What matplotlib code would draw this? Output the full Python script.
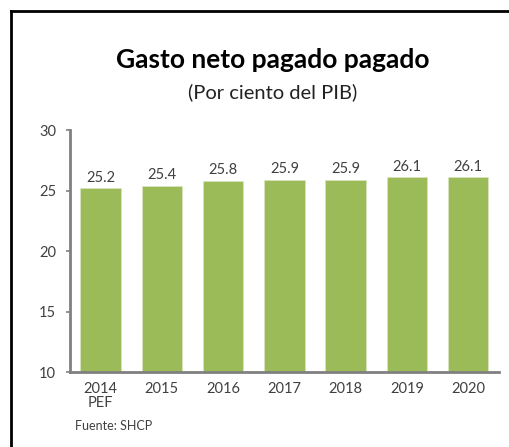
import matplotlib

matplotlib.use("Agg")

import matplotlib.pyplot as plt
from matplotlib.lines import Line2D


YEARS = ["2014\nPEF", "2015", "2016", "2017", "2018", "2019", "2020"]
GASTO = [25.2, 25.4, 25.8, 25.9, 25.9, 26.1, 26.1]
Y_TICKS = [10, 15, 20, 25, 30]

BAR_COLOR = "#9BBB59"
AXIS_GRAY = "#808080"
TEXT_GRAY = "#404040"


def main():
    plt.rcParams["font.family"] = ["Lato", "DejaVu Sans"]
    fig = plt.figure(figsize=(5.09, 4.47), dpi=100)
    ax = fig.add_axes([0.1375, 0.167, 0.8425, 0.542])

    x = range(len(YEARS))
    bars = ax.bar(x, GASTO, width=0.66, bottom=0, color=BAR_COLOR,
                  edgecolor="#D8E4BC", linewidth=0.6, zorder=2)
    for rect, value in zip(bars, GASTO):
        ax.annotate(f"{value:.1f}", (rect.get_x() + rect.get_width() / 2, value),
                    xytext=(0, 2.5), textcoords="offset points",
                    ha="center", va="bottom", fontsize=10.5, color=TEXT_GRAY)

    ax.set_ylim(10, 30)
    ax.set_xlim(-0.5, len(YEARS) - 0.5)
    ax.set_yticks(Y_TICKS)
    ax.set_xticks(list(x))
    ax.set_xticklabels(YEARS, fontsize=10.5, color=TEXT_GRAY, linespacing=1.0)
    ax.tick_params(axis="y", labelsize=10.5, labelcolor=TEXT_GRAY, color=AXIS_GRAY,
                   length=3, width=1.2, pad=7)
    ax.tick_params(axis="x", length=0, pad=7)

    for side in ("top", "right"):
        ax.spines[side].set_visible(False)
    for side in ("left", "bottom"):
        ax.spines[side].set_color(AXIS_GRAY)
        ax.spines[side].set_linewidth(2)

    fig.text(0.536, 0.865, "Gasto neto pagado pagado", ha="center", va="center",
             fontsize=19, fontweight="bold", color="black")
    fig.text(0.536, 0.794, "(Por ciento del PIB)", ha="center", va="center",
             fontsize=14.5, color="#222222")
    fig.text(0.147, 0.048, "Fuente: SHCP", ha="left", va="center",
             fontsize=9, color=TEXT_GRAY)

    # outer frame: left and top edges only
    fig.add_artist(Line2D([0.021, 0.021], [0.0, 0.976], transform=fig.transFigure,
                          color="black", linewidth=2))
    fig.add_artist(Line2D([0.021, 1.0], [0.976, 0.976], transform=fig.transFigure,
                          color="black", linewidth=2))

    fig.savefig("out.png", dpi=100)
    plt.close(fig)


if __name__ == "__main__":
    main()
